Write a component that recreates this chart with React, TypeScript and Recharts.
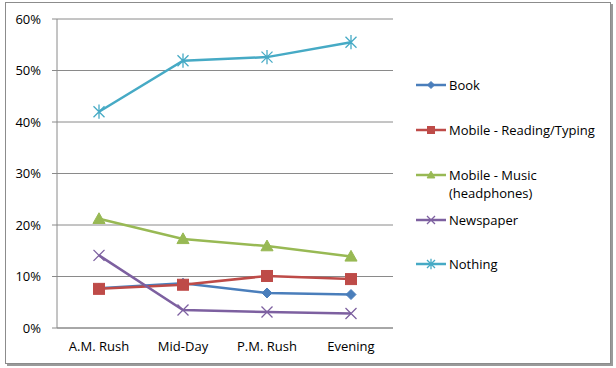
import React from 'react'
import { LineChart, Line, XAxis, YAxis, CartesianGrid } from 'recharts'

// categories and series (percent values)
const categories = ['A.M. Rush', 'Mid-Day', 'P.M. Rush', 'Evening']
const book = [7.7, 8.7, 6.8, 6.5]
const mobileReading = [7.6, 8.4, 10.1, 9.5]
const mobileMusic = [21.2, 17.3, 15.9, 13.9]
const newspaper = [14.1, 3.5, 3.1, 2.8]
const nothing = [42.0, 51.9, 52.6, 55.5]
const yTicks = [0, 10, 20, 30, 40, 50, 60]
const edgeTicks = [0, 1, 2, 3, 4]

type Kind = 'diamond' | 'square' | 'triangle' | 'cross' | 'star'

interface SeriesDef {
  key: string
  name: string[]
  color: string
  kind: Kind
  values: number[]
}

const series: SeriesDef[] = [
  { key: 'book', name: ['Book'], color: '#4A7EBB', kind: 'diamond', values: book },
  { key: 'reading', name: ['Mobile - Reading/Typing'], color: '#BE4B48', kind: 'square', values: mobileReading },
  { key: 'music', name: ['Mobile - Music', '(headphones)'], color: '#98B954', kind: 'triangle', values: mobileMusic },
  { key: 'newspaper', name: ['Newspaper'], color: '#7D60A0', kind: 'cross', values: newspaper },
  { key: 'nothing', name: ['Nothing'], color: '#46AAC5', kind: 'star', values: nothing }
]

const data = categories.map((c, i) => {
  const row: Record<string, string | number> = { name: c }
  series.forEach((s) => {
    row[s.key] = s.values[i]
  })
  return row
})

const FONT = '"Open Sans", "Noto Sans", sans-serif'
const AXIS = '#8A8A8A'

// marker drawn at (cx, cy)
const Marker = ({ cx, cy, kind, color, r }: { cx: number; cy: number; kind: Kind; color: string; r: number }) => {
  switch (kind) {
    case 'diamond':
      return <path d={`M${cx},${cy - r}L${cx + r},${cy}L${cx},${cy + r}L${cx - r},${cy}Z`} fill={color} stroke={color} />
    case 'square':
      return <rect x={cx - r} y={cy - r} width={r * 2} height={r * 2} fill={color} stroke={color} />
    case 'triangle':
      return <path d={`M${cx},${cy - r * 1.1}L${cx + r * 1.1},${cy + r * 0.85}L${cx - r * 1.1},${cy + r * 0.85}Z`} fill={color} stroke={color} />
    case 'cross':
      return (
        <path d={`M${cx - r},${cy - r}L${cx + r},${cy + r}M${cx - r},${cy + r}L${cx + r},${cy - r}`} stroke={color} strokeWidth={1.3} fill="none" />
      )
    case 'star':
      return (
        <path
          d={`M${cx - r},${cy - r}L${cx + r},${cy + r}M${cx - r},${cy + r}L${cx + r},${cy - r}M${cx},${cy - r * 1.3}L${cx},${cy + r * 1.3}`}
          stroke={color}
          strokeWidth={1.3}
          fill="none"
        />
      )
    default:
      return null
  }
}

const markerSize: Record<Kind, number> = { diamond: 5, square: 5.5, triangle: 5.5, cross: 5.5, star: 5.5 }

const legendY = [85, 130, 175, 220, 264]

export default function App() {
  return (
    <div style={{ position: 'absolute', left: 0, top: 0, width: 616, height: 368, background: '#fff', fontFamily: FONT }}>
      <div
        style={{
          position: 'absolute',
          left: 5,
          top: 2,
          width: 604,
          height: 360,
          border: '1px solid #8C8C8C',
          boxShadow: '2px 2px 0 #9A9A9A'
        }}
      />
      <div style={{ position: 'absolute', left: 0, top: 0 }}>
        <LineChart width={616} height={368} data={data} margin={{ top: 19, right: 223, bottom: 10, left: 0 }}>
          <CartesianGrid horizontal vertical={false} stroke={AXIS} strokeWidth={1} />
          <XAxis
            xAxisId="edges"
            type="number"
            domain={[0, 4]}
            ticks={edgeTicks}
            allowDataOverflow
            height={0}
            axisLine={false}
            tickSize={5}
            tickLine={{ stroke: AXIS }}
            tickFormatter={() => ''}
          />
          <XAxis
            dataKey="name"
            height={30}
            padding={{ left: 42, right: 42 }}
            axisLine={{ stroke: AXIS }}
            tickLine={false}
            tickSize={0}
            tickMargin={14}
            tick={{ fill: '#000', fontSize: 13, fontFamily: FONT }}
            interval={0}
          />
          <YAxis
            width={57}
            domain={[0, 60]}
            ticks={yTicks}
            tickFormatter={(v: number) => `${v}%`}
            axisLine={{ stroke: AXIS }}
            tickLine={{ stroke: AXIS }}
            tickSize={5}
            tickMargin={11}
            tick={{ fill: '#000', fontSize: 13, fontFamily: FONT }}
          />
          {series.map((s) => (
            <Line
              key={s.key}
              dataKey={s.key}
              stroke={s.color}
              strokeWidth={2.5}
              isAnimationActive={false}
              dot={(p: any) => <Marker key={`${s.key}-${p.index}`} cx={p.cx} cy={p.cy} kind={s.kind} color={s.color} r={markerSize[s.kind]} />}
              activeDot={false}
            />
          ))}
        </LineChart>
      </div>
      {series.map((s, i) => (
        <div key={s.key} style={{ position: 'absolute', left: 416, top: legendY[i] - 9 }}>
          <svg width={30} height={18} style={{ position: 'absolute', left: 0, top: 0 }}>
            <line x1={0} y1={9} x2={30} y2={9} stroke={s.color} strokeWidth={2.5} />
            <Marker cx={15} cy={9} kind={s.kind} color={s.color} r={s.kind === 'cross' || s.kind === 'star' ? 4 : 3.5} />
          </svg>
          <div style={{ position: 'absolute', left: 33, top: 0, fontSize: 13, lineHeight: '18px', color: '#000', whiteSpace: 'nowrap' }}>
            {s.name.map((t) => (
              <div key={t}>{t}</div>
            ))}
          </div>
        </div>
      ))}
    </div>
  )
}
